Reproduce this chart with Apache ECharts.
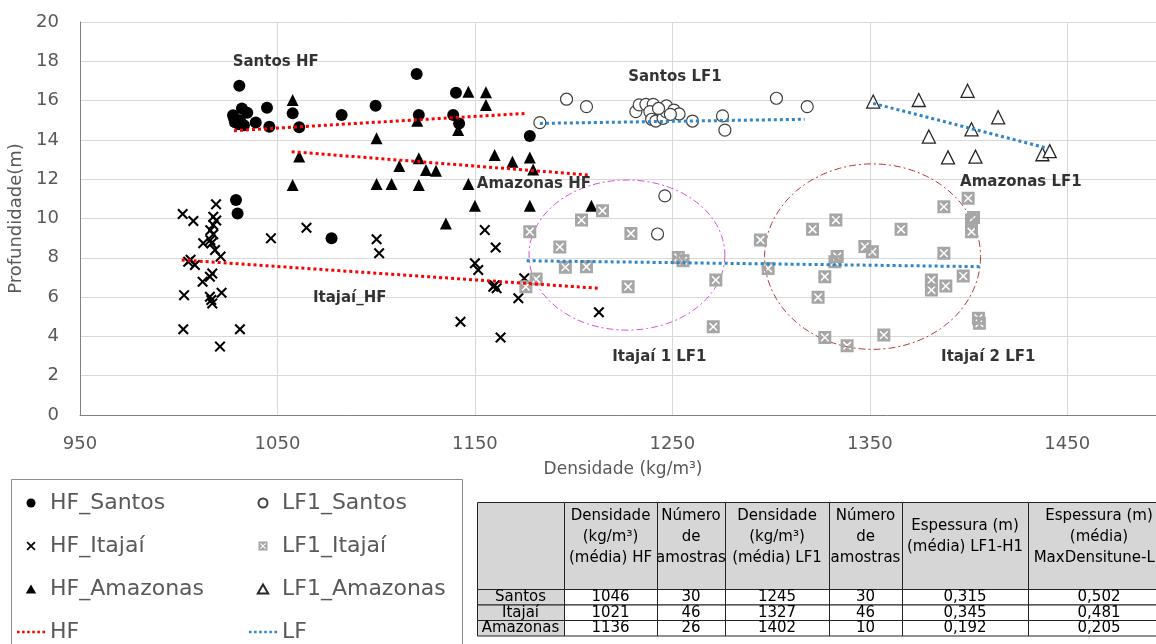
<!DOCTYPE html>
<html><head><meta charset="utf-8">
<script src="https://cdn.jsdelivr.net/npm/echarts@6/dist/echarts.min.js"></script>
<style>html,body{margin:0;padding:0;background:#fff}#c{width:1156px;height:644px}</style>
</head><body><div id="c"></div>
<script>
// ---------- DATA ----------
const xTicks = [950, 1050, 1150, 1250, 1350, 1450];
const yTicks = [0, 2, 4, 6, 8, 10, 12, 14, 16, 18, 20];

const hfSantos = [[1030.7,16.76],[1032,15.6],[1034.7,15.38],[1028,15.1],[1028.5,14.9],[1030.5,14.8],[1033,14.75],[1027.5,15.25],[1031,15.0],[1039,14.88],[1044.7,15.64],[1045.9,14.67],[1057.7,15.35],[1061,14.64],[1082.5,15.27],[1029,10.94],[1029.8,10.26],[1077.4,8.99],[1120.5,17.35],[1140.4,16.4],[1099.7,15.74],[1121.6,15.27],[1139,15.27],[1142,14.84],[1177.8,14.2]];
const hfItajai = [[1002,10.23],[1007.4,9.87],[1018.9,10.72],[1017.5,10.09],[1019,9.9],[1017.5,9.67],[1016,9.4],[1017.5,9.2],[1012.4,8.74],[1016.6,8.74],[1018.4,8.4],[1016,8.9],[1021.2,8.06],[1004.8,7.8],[1008.2,7.63],[1006,7.9],[1015.8,7.04],[1017,7.2],[1012.1,6.78],[1002.7,6.1],[1015.8,6.02],[1021.7,6.22],[1017,5.68],[1016.5,5.85],[1002.3,4.36],[1031,4.36],[1020.9,3.48],[1046.7,8.99],[1064.7,9.53],[1100.2,8.94],[1101.5,8.23],[1155,9.41],[1160.5,8.52],[1150,7.72],[1151.7,7.38],[1159.3,6.53],[1161,6.45],[1160,6.6],[1172,5.94],[1142.7,4.75],[1163,3.94],[1175,6.96],[1212.8,5.23]];
const hfAmazonas = [[1057.7,16.03],[1061,13.15],[1057.7,11.7],[1146.7,16.45],[1155.6,16.42],[1155.6,15.78],[1120.8,14.98],[1141.5,14.5],[1100.2,14.08],[1160,13.23],[1121.6,13.06],[1111.7,12.67],[1125.2,12.47],[1130.3,12.43],[1169,12.89],[1177.8,13.1],[1179.5,12.5],[1100.2,11.76],[1107.8,11.76],[1121.6,11.7],[1146.7,11.76],[1150,10.65],[1177.8,10.65],[1135.3,9.75],[1209,10.65]];
const lf1Santos = [[1182.9,14.88],[1196.4,16.07],[1206.5,15.69],[1231.5,15.44],[1233.2,15.78],[1236.6,15.81],[1240.3,15.81],[1238.6,15.44],[1239.5,15.05],[1241.6,14.96],[1245.3,15.1],[1246.7,15.44],[1247,15.73],[1250.8,15.52],[1253.4,15.32],[1260.2,14.96],[1275.4,15.22],[1276.6,14.5],[1246.2,11.15],[1242.5,9.21],[1302.7,16.12],[1318.3,15.69],[1243,15.6],[1249,15.3]];
const lf1Itajai = [[1177.8,9.33],[1193,8.55],[1195.8,7.52],[1181,6.92],[1175.8,6.53],[1204,9.92],[1214.6,10.4],[1229,9.24],[1206.5,7.55],[1253,8.02],[1255.4,7.85],[1227.6,6.53],[1272,6.87],[1270.7,4.49],[1294.6,8.91],[1298.5,7.46],[1321,9.45],[1332.8,9.92],[1333.5,8.06],[1332.3,7.8],[1327.2,7.04],[1323.8,5.99],[1347.5,8.57],[1351.3,8.31],[1365.8,9.45],[1327.2,3.95],[1338.5,3.53],[1357.1,4.07],[1387.5,10.6],[1399.8,11.03],[1401.5,9.92],[1401.5,9.33],[1387.5,8.23],[1381.2,6.87],[1381.2,6.36],[1388.5,6.56],[1397.3,7.07],[1405,4.92],[1405.5,4.67],[1402.5,10.05]];
const lf1Amazonas = [[1351.7,15.95],[1374.8,16.03],[1399.5,16.5],[1379.9,14.17],[1401.5,14.54],[1389.6,13.11],[1403.5,13.15],[1415,15.15],[1437.4,13.27],[1441.1,13.43]];

// trend lines (endpoints)
const hfTrendSantos = [[1028,14.47],[1176,15.35]];
const hfTrendAmazonas = [[1057.2,13.4],[1208.2,12.21]];
const hfTrendItajai = [[1001.5,7.89],[1212.4,6.45]];
const lfTrendSantos = [[1182.9,14.84],[1317,15.05]];
const lfTrendAmazonas = [[1351.7,15.86],[1440.3,13.57]];
const lfTrendItajai = [[1176.2,7.85],[1405.7,7.55]];

// ellipses: [centerX, centerY, radiusX, radiusY] in data units
const ellipseItajai1 = [1227, 8.14, 49.6, 3.82];
const ellipseItajai2 = [1351.4, 8.06, 54.7, 4.72];

// annotations: [text, x, y]
const annotations = [['Santos HF',1049.1,17.98],['Santos LF1',1251.3,17.22],['Amazonas HF',1179.9,11.76],['Amazonas LF1',1426.5,11.87],['Itajaí_HF',1086.6,5.94],['Itajaí 1 LF1',1243.4,2.95],['Itajaí 2 LF1',1410,2.95]];

// table
const tableHeader = ['', 'Densidade\n(kg/m³)\n(média) HF', 'Número\nde\namostras', 'Densidade\n(kg/m³)\n(média) LF1', 'Número\nde\namostras', 'Espessura (m)\n(média) LF1-H1', 'Espessura (m)\n(média)\nMaxDensitune-L1'];
const tableRegions = ['Santos', 'Itajaí', 'Amazonas'];
const hfDensity = [1046, 1021, 1136];
const hfCount = [30, 46, 26];
const lf1Density = [1245, 1327, 1402];
const lf1Count = [30, 46, 10];
const thickLF1H1 = ['0,315', '0,345', '0,192'];
const thickMax = ['0,502', '0,481', '0,205'];

// ---------- STYLE ----------
const FONT = 'DejaVu Sans';
const xPath = 'path://M0,1.6L1.6,0L6,4.4L10.4,0L12,1.6L7.6,6L12,10.4L10.4,12L6,7.6L1.6,12L0,10.4L4.4,6Z';
const sqxPath = 'path://M0,0L12,0L12,12L0,12Z M5,6L2,9L3,10L6,7L9,10L10,9L7,6L10,3L9,2L6,5L3,2L2,3Z';
const triPath = 'path://M6,0L12,10.4L0,10.4Z';
const dotsPath = 'path://M0,0h2.5v2.5h-2.5z M5,0h2.5v2.5h-2.5z M10,0h2.5v2.5h-2.5z M15,0h2.5v2.5h-2.5z M20,0h2.5v2.5h-2.5z M25,0h2.5v2.5h-2.5z';
const RED = '#ff0000', BLUE = '#2e86c8';

const chart = echarts.init(document.getElementById('c'), null, {renderer: 'canvas'});

function trend(name, data, color) {
  return {type: 'line', name: name, data: data, symbol: 'none', showSymbol: false, z: 4, silent: true,
    lineStyle: {color: color, width: 3, type: [3, 3]}, itemStyle: {color: color}};
}

// table graphics
const colX = [477, 564, 657, 725, 829, 902, 1028, 1170];
const rowY = [502, 589, 604.5, 620, 635.5];
const tableEls = [];
const rowsData = tableRegions.map((r, i) => [r, hfDensity[i], hfCount[i], lf1Density[i], lf1Count[i], thickLF1H1[i], thickMax[i]]);
const allRows = [tableHeader].concat(rowsData);
allRows.forEach((row, ri) => {
  row.forEach((txt, ci) => {
    const x0 = colX[ci], x1 = colX[ci + 1], y0 = rowY[ri], y1 = rowY[ri + 1];
    const gray = (ri === 0 || ci === 0);
    tableEls.push({type: 'rect', shape: {x: x0 + 0.5, y: y0 + 0.5, width: x1 - x0, height: y1 - y0},
      style: {fill: gray ? '#d6d6d6' : '#ffffff', stroke: '#222', lineWidth: 1}, z: 10, silent: true});
    tableEls.push({type: 'text', x: (x0 + x1) / 2, y: ri === 0 ? 537 : (y0 + y1) / 2 + 0.5, z: 11, silent: true,
      style: {text: String(txt), fill: '#000', fontFamily: FONT, fontSize: 15, lineHeight: 21, align: 'center', verticalAlign: 'middle'}});
  });
});

const legendCommon = {orient: 'vertical', itemGap: 19, itemWidth: 28, itemHeight: 9, symbolKeepAspect: true,
  textStyle: {fontFamily: FONT, fontSize: 22, color: '#595959', lineHeight: 24}, selectedMode: false, padding: 0};

const option = {
  animation: false,
  backgroundColor: '#fff',
  grid: {left: 80, right: -10, top: 22, bottom: 229, outerBoundsMode: 'none', containLabel: false},
  xAxis: {type: 'value', min: xTicks[0], max: 1500, interval: 100,
    name: 'Densidade (kg/m³)', nameLocation: 'middle', nameGap: 46,
    nameTextStyle: {fontFamily: FONT, fontSize: 17, color: '#595959'},
    axisLine: {show: true, lineStyle: {color: '#7f7f7f', width: 1}}, axisTick: {show: false},
    axisLabel: {fontFamily: FONT, fontSize: 18, color: '#595959', margin: 20, showMaxLabel: false, formatter: v => String(v)},
    splitLine: {show: true, lineStyle: {color: '#d9d9d9', width: 1}}},
  yAxis: {type: 'value', min: yTicks[0], max: yTicks[yTicks.length - 1], interval: 2,
    name: 'Profundidade(m)', nameLocation: 'middle', nameGap: 50,
    nameTextStyle: {fontFamily: FONT, fontSize: 18, color: '#595959'},
    axisLine: {show: true, lineStyle: {color: '#7f7f7f', width: 1}}, axisTick: {show: false},
    axisLabel: {fontFamily: FONT, fontSize: 18, color: '#595959', margin: 21, formatter: v => String(v)},
    splitLine: {show: true, lineStyle: {color: '#d9d9d9', width: 1}}},
  legend: [
    Object.assign({left: 17, top: 491, data: ['HF_Santos', 'HF_Itajaí', 'HF_Amazonas', {name: 'HF', icon: dotsPath, itemStyle: {color: RED}}]}, legendCommon),
    Object.assign({left: 249, top: 491, data: ['LF1_Santos', 'LF1_Itajaí', 'LF1_Amazonas', {name: 'LF', icon: dotsPath, itemStyle: {color: BLUE}}]}, legendCommon)
  ],
  graphic: [{type: 'rect', shape: {x: 11.5, y: 479.5, width: 451, height: 200}, style: {fill: 'none', stroke: '#8c8c8c', lineWidth: 1}, z: 0, silent: true}].concat(tableEls),
  series: [
    {type: 'custom', name: 'ellipses', silent: true, z: 1,
      data: [ellipseItajai1, ellipseItajai2], encode: {x: 0, y: 1},
      renderItem: function (params, api) {
        const c = api.coord([api.value(0), api.value(1)]);
        const s = api.size([api.value(2), api.value(3)]);
        const pts = [];
        for (let i = 0; i <= 120; i++) { const a = i / 120 * 2 * Math.PI; pts.push([c[0] + s[0] * Math.cos(a), c[1] + s[1] * Math.sin(a)]); }
        return {type: 'polyline', shape: {points: pts},
          style: {stroke: params.dataIndex === 0 ? '#d94fd9' : '#b03a3a', fill: null, lineWidth: 1, lineDash: [7, 3, 2, 3]}};
      }},
    {type: 'scatter', name: 'HF_Santos', data: hfSantos, symbol: 'circle', symbolSize: 12, z: 3, itemStyle: {color: '#000', opacity: 1}},
    {type: 'scatter', name: 'HF_Itajaí', data: hfItajai, symbol: xPath, symbolSize: 11, z: 3, itemStyle: {color: '#000', opacity: 1}},
    {type: 'scatter', name: 'HF_Amazonas', data: hfAmazonas, symbol: triPath, symbolSize: 12, z: 3, itemStyle: {color: '#000', opacity: 1}},
    {type: 'scatter', name: 'LF1_Santos', data: lf1Santos, symbol: 'circle', symbolSize: 12, z: 3, itemStyle: {color: '#fff', borderColor: '#404040', borderWidth: 1.2, opacity: 1}},
    {type: 'scatter', name: 'LF1_Itajaí', data: lf1Itajai, symbol: sqxPath, symbolSize: 13, z: 3, itemStyle: {color: '#a6a6a6', opacity: 1}},
    {type: 'scatter', name: 'LF1_Amazonas', data: lf1Amazonas, symbol: triPath, symbolSize: 13, z: 3, itemStyle: {color: '#fff', borderColor: '#262626', borderWidth: 1.3, opacity: 1}},
    trend('HF', hfTrendSantos, RED), trend('HF', hfTrendAmazonas, RED), trend('HF', hfTrendItajai, RED),
    trend('LF', lfTrendSantos, BLUE), trend('LF', lfTrendAmazonas, BLUE), trend('LF', lfTrendItajai, BLUE),
    {type: 'scatter', name: 'labels', silent: true, z: 6, symbolSize: 1, itemStyle: {color: 'rgba(0,0,0,0)'},
      data: annotations.map(a => ({name: a[0], value: [a[1], a[2]]})),
      label: {show: true, position: 'inside', formatter: p => p.name, fontFamily: FONT, fontWeight: 'bold', fontSize: 15, color: '#000'}}
  ]
};
chart.setOption(option);
</script>
</body></html>
